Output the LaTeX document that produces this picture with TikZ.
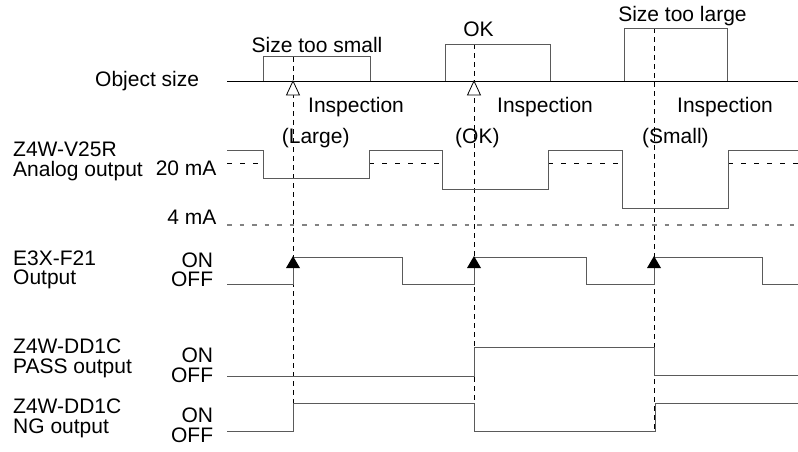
\documentclass[tikz,border=0pt]{standalone}
\usepackage{fontspec}
\setmainfont{Liberation Sans}
\usetikzlibrary{arrows.meta,positioning,calc}
\definecolor{sigline}{RGB}{90,90,90}
\definecolor{refgray}{RGB}{130,130,130}
\tikzset{
  lbl/.style={font=\fontsize{21}{24}\selectfont,inner sep=0pt},
  signal/.style={line width=1pt,draw=sigline},
  axisline/.style={line width=1pt,draw=black},
  marker/.style={line width=0.9pt,draw=black,dash pattern=on 5pt off 4pt},
  refline/.style={line width=0.9pt,draw=black,dash pattern=on 5pt off 8pt},
  lowline/.style={line width=1.4pt,draw=refgray,dash pattern=on 4.5pt off 8pt},
  hollowtip/.style={draw=black,fill=white,line width=0.8pt},
  solidtip/.style={fill=black}
}
\begin{document}
\begin{tikzpicture}[x=1pt,y=-1pt]
  \useasboundingbox (0,0) rectangle (798,451);
  \foreach \x/\top/\bot in {293/57/403,474/44/431,654/28/431}{
    \draw[marker] (\x,\top)--(\x,\bot);
  }
  \node[lbl,anchor=base west] (objsize) at (95,86) {Object size};
  \node[lbl,anchor=base] (toosmall) at (317,52.3) {Size too small};
  \node[lbl,anchor=base] (okay) at (478.5,36.7) {OK};
  \node[lbl,anchor=base] (toolarge) at (682.5,21.7) {Size too large};
  \draw[axisline] (227,81)--(798,81);
  \draw[signal] (263,81)--(263,56)--(370,56)--(370,81);
  \draw[signal] (445,81)--(445,44)--(550,44)--(550,81);
  \draw[signal] (624,81)--(624,28)--(727,28)--(727,81);
  \foreach \x/\n in {308/1,497/2,677/3}{
    \node[lbl,anchor=base west] (insp\n) at (\x,112.3) {Inspection};
  }
  \foreach \x/\lab/\n in {281.7/(Large)/1,455/(OK)/2,642/(Small)/3}{
    \node[lbl,anchor=base west] (judge\n) at (\x,143.3) {\lab};
  }
  \foreach \x in {293,474}{
    \draw[hollowtip] (\x,81)--(\x-6.5,95)--(\x+6.5,95)--cycle;
  }
  \node[lbl,anchor=base west] (ananame) at (13,156.7) {Z4W-V25R};
  \node[lbl,anchor=base west] (anaout) at (13,176) {Analog output};
  \node[lbl,anchor=base east] (twenty) at (216.7,175.7) {20 mA};
  \node[lbl,anchor=base east] (four) at (216.7,224.3) {4 mA};
  \foreach \a/\b in {227/263,369/442,548/622,728/798}{
    \draw[refline] (\a,163)--(\b,163);
  }
  \draw[lowline] (227,225)--(798,225);
  \draw[signal] (227,150)--(263,150)--(263,178)--(369,178)--(369,150)--(442,150)--(442,189)
    --(548,189)--(548,150)--(622,150)--(622,208)--(728,208)--(728,150)--(798,150);
  \node[lbl,anchor=base west] (sensname) at (13,265) {E3X-F21};
  \node[lbl,anchor=base west] (sensout) at (13,284.5) {Output};
  \node[lbl,anchor=base east] (senson) at (213.3,267.3) {ON};
  \node[lbl,anchor=base east] (sensoff) at (213.3,286.7) {OFF};
  \draw[signal] (227,284)--(293,284)--(293,257)--(402,257)--(402,284)--(474,284)--(474,257)
    --(586,257)--(586,284)--(654,284)--(654,257)--(762,257)--(762,284)--(798,284);
  \foreach \x in {293,474,654}{
    \fill[solidtip] (\x,256)--(\x-7,268)--(\x+7,268)--cycle;
  }
  \node[lbl,anchor=base west] (passname) at (13,353.3) {Z4W-DD1C};
  \node[lbl,anchor=base west] (passout) at (13,373.3) {PASS output};
  \node[lbl,anchor=base east] (passon) at (213.3,362.7) {ON};
  \node[lbl,anchor=base east] (passoff) at (213.3,382.7) {OFF};
  \draw[signal] (227,376)--(474,376)--(474,347)--(654,347)--(654,375)--(798,375);
  \node[lbl,anchor=base west] (ngname) at (13,413.3) {Z4W-DD1C};
  \node[lbl,anchor=base west] (ngout) at (13,433.3) {NG output};
  \node[lbl,anchor=base east] (ngon) at (213.3,422.7) {ON};
  \node[lbl,anchor=base east] (ngoff) at (213.3,442.3) {OFF};
  \draw[signal] (227,431)--(293,431)--(293,403)--(474,403)--(474,431)--(655,431)--(655,403)--(798,403);
\end{tikzpicture}
\end{document}
